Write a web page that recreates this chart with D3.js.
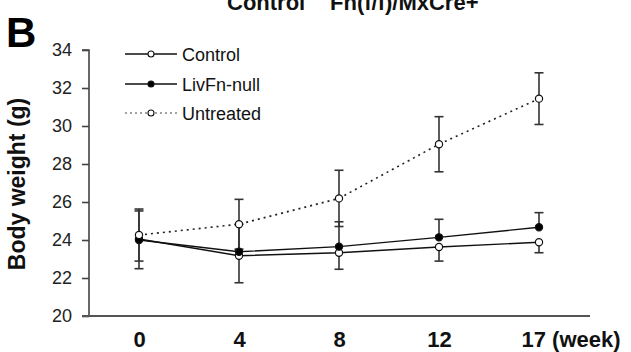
<!DOCTYPE html>
<html>
<head>
<meta charset="utf-8">
<script src="https://cdn.jsdelivr.net/npm/d3@7"></script>
<style>
  html, body { margin: 0; padding: 0; background: #fff; }
  svg { display: block; font-family: "Liberation Sans", Arial, sans-serif; }
</style>
</head>
<body>
<svg id="chart" width="631" height="352"></svg>
<script>
// ---- data ----
const weeks = ["0", "4", "8", "12", "17"];
const controlMean = [24.05, 23.17, 23.33, 23.63, 23.88];
const controlErr  = [1.56, 1.42, 0.87, 0.74, 0.55];   // drawn downward
const livMean     = [24.0, 23.38, 23.65, 24.14, 24.67];
const livErr      = [1.53, 1.45, 1.31, 0.95, 0.77];   // drawn upward
const untMean     = [24.26, 24.83, 26.19, 29.04, 31.44];
const untErr      = [1.37, 1.31, 1.48, 1.45, 1.36];   // drawn both ways
const yTicks = [20, 22, 24, 26, 28, 30, 32, 34];
const seriesNames = ["Control", "LivFn-null", "Untreated"];

// ---- layout ----
const svg = d3.select("#chart");
const axisX0 = 89, axisX1 = 590, axisYTop = 50, axisYBottom = 316;

const x = d3.scalePoint().domain(weeks).range([axisX0 + 50, axisX1 - 51]);
const y = d3.scaleLinear().domain([20, 34]).range([axisYBottom, axisYTop]);

// title (partially cut at top, as in the reference)
svg.append("text").attr("x", 227).attr("y", 10)
  .attr("font-size", 22).attr("font-weight", "bold").attr("fill", "#111")
  .text("Control");
svg.append("text").attr("x", 330).attr("y", 10)
  .attr("font-size", 22).attr("font-weight", "bold").attr("fill", "#111")
  .text("Fn(f/f)/MxCre+");

// panel label
svg.append("text").attr("x", 6).attr("y", 47)
  .attr("font-size", 42).attr("font-weight", "bold").attr("fill", "#000")
  .text("B");

// y axis
const yAxis = d3.axisLeft(y).tickValues(yTicks).tickSize(7).tickPadding(10);
const gy = svg.append("g").attr("transform", `translate(${axisX0},0)`).call(yAxis);
gy.select(".domain").attr("stroke", "#444").attr("stroke-width", 1.6)
  .attr("d", `M-7,${axisYTop}H0V${axisYBottom}`);
gy.selectAll(".tick line").attr("stroke", "#444").attr("stroke-width", 1.6);
gy.selectAll(".tick text").attr("font-size", 18).attr("fill", "#222")
  .attr("font-family", "'Liberation Sans', Arial, sans-serif");

// x axis
const xAxis = d3.axisBottom(x).tickSize(0).tickPadding(15);
const gx = svg.append("g").attr("transform", `translate(0,${axisYBottom})`).call(xAxis);
gx.select(".domain").attr("stroke", "#555").attr("stroke-width", 2)
  .attr("d", `M${axisX0 - 7},0H${axisX1}`);
gx.selectAll(".tick text").attr("font-size", 22).attr("font-weight", "bold")
  .attr("fill", "#111").attr("font-family", "'Liberation Sans', Arial, sans-serif")
  .attr("dy", "0.71em");
const lastTick = gx.selectAll(".tick").filter(d => d === "17").select("text")
  .attr("text-anchor", "start").attr("dx", -18);
lastTick.append("tspan").text(" (week)");

// y label
svg.append("text")
  .attr("transform", `translate(25,${(axisYTop + axisYBottom) / 2 + 1}) rotate(-90)`)
  .attr("text-anchor", "middle")
  .attr("font-size", 23).attr("font-weight", "bold").attr("fill", "#111")
  .text("Body weight (g)");

// ---- error bars ----
const capW = 4.5;
const eb = svg.append("g").attr("stroke", "#333").attr("stroke-width", 1.6).attr("fill", "none");
function errBar(xv, y0, y1) {
  eb.append("line").attr("x1", xv).attr("x2", xv).attr("y1", y(y0)).attr("y2", y(y1));
  eb.append("line").attr("x1", xv - capW).attr("x2", xv + capW).attr("y1", y(y1)).attr("y2", y(y1));
}
weeks.forEach((w, i) => {
  errBar(x(w), controlMean[i], controlMean[i] - controlErr[i]);
  errBar(x(w), livMean[i], livMean[i] + livErr[i]);
  errBar(x(w), untMean[i], untMean[i] + untErr[i]);
  errBar(x(w), untMean[i], untMean[i] - untErr[i]);
});

// ---- lines ----
const line = vals => d3.line().x((d, i) => x(weeks[i])).y(d => y(d))(vals);
svg.append("path").attr("d", line(untMean)).attr("fill", "none")
  .attr("stroke", "#222").attr("stroke-width", 1.6).attr("stroke-dasharray", "2,4");
svg.append("path").attr("d", line(controlMean)).attr("fill", "none")
  .attr("stroke", "#111").attr("stroke-width", 1.4);
svg.append("path").attr("d", line(livMean)).attr("fill", "none")
  .attr("stroke", "#111").attr("stroke-width", 1.4);

// ---- markers ----
function markers(vals, fill) {
  svg.append("g").selectAll("circle").data(vals).join("circle")
    .attr("cx", (d, i) => x(weeks[i])).attr("cy", d => y(d))
    .attr("r", 3.6).attr("fill", fill).attr("stroke", "#111").attr("stroke-width", 1.2);
}
markers(controlMean, "#fff");
markers(livMean, "#000");
markers(untMean, "#fff");

// ---- legend ----
const legendRows = [54, 84, 113];
const lg = svg.append("g");
seriesNames.forEach((name, i) => {
  const yy = legendRows[i];
  const dotted = name === "Untreated";
  lg.append("line").attr("x1", 125).attr("x2", 177).attr("y1", yy).attr("y2", yy)
    .attr("stroke", dotted ? "#444" : "#111").attr("stroke-width", dotted ? 1.2 : 1.4)
    .attr("stroke-dasharray", dotted ? "2,3" : null);
  lg.append("circle").attr("cx", 151).attr("cy", yy).attr("r", 3)
    .attr("fill", name === "LivFn-null" ? "#000" : "#fff")
    .attr("stroke", "#111").attr("stroke-width", 1.1);
  lg.append("text").attr("x", 182).attr("y", yy + 6.5)
    .attr("font-size", 18).attr("fill", "#111").text(name);
});
</script>
</body>
</html>
